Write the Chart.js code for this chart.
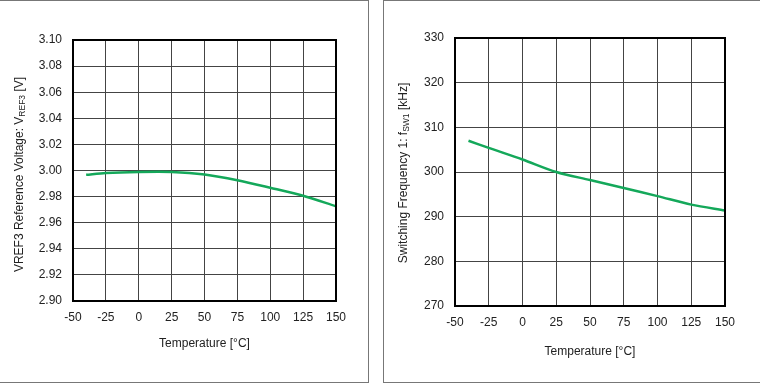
<!DOCTYPE html>
<html>
<head>
<meta charset="utf-8">
<script src="https://cdn.jsdelivr.net/npm/chart.js@4/dist/chart.umd.min.js"></script>
<style>
  body { margin: 0; background: #fff; width: 760px; height: 388px; overflow: hidden; position: relative; }
  .panel { position: absolute; top: 0; height: 383px; border: 1px solid #777; box-sizing: border-box; background: #fff; }
  #boxLeft { left: -1px; width: 370px; }
  #boxRight { left: 383px; width: 378px; }
  canvas { position: absolute; left: 0; top: 0; }
</style>
</head>
<body>
<div class="panel" id="boxLeft"><canvas id="vrefChart" width="368" height="381"></canvas></div>
<div class="panel" id="boxRight"><canvas id="fswChart" width="376" height="381"></canvas></div>
<script>
const temps = [-40, -25, 0, 25, 50, 75, 100, 125, 150];
const vref3 = [2.9967, 2.9981, 2.9989, 2.9989, 2.9970, 2.9926, 2.9868, 2.9806, 2.9726];
const fsw1 = [307.0, 305.4, 302.8, 300.0, 298.2, 296.4, 294.6, 292.7, 291.4];

const xTicks = [-50, -25, 0, 25, 50, 75, 100, 125, 150];
const vrefTicks = [2.90, 2.92, 2.94, 2.96, 2.98, 3.00, 3.02, 3.04, 3.06, 3.08, 3.10];
const fswTicks = [270, 280, 290, 300, 310, 320, 330];

const FONT = "'Liberation Sans', Arial, sans-serif";
const lineColor = '#14a85a';

// frame + axis titles (y title has a subscript)
const titlesPlugin = {
  id: 'titles',
  afterDraw(chart, args, opts) {
    const ctx = chart.ctx;
    const a = chart.chartArea;
    ctx.save();
    ctx.strokeStyle = '#000';
    ctx.lineWidth = 2;
    ctx.strokeRect(a.left, a.top, a.right - a.left, a.bottom - a.top);

    ctx.fillStyle = '#222';
    ctx.font = '12px ' + FONT;
    ctx.textAlign = 'center';
    ctx.textBaseline = 'middle';
    ctx.fillText('Temperature [°C]', (a.left + a.right) / 2, a.bottom + opts.xTitleGap);

    // rotated y title
    const parts = opts.yTitle;
    const big = '12px ' + FONT, small = '8.5px ' + FONT;
    let total = 0;
    parts.forEach(p => { ctx.font = p.sub ? small : big; total += ctx.measureText(p.t).width; });
    ctx.translate(opts.yTitleX, (a.top + a.bottom) / 2 + opts.yShift);
    ctx.rotate(-Math.PI / 2);
    ctx.textAlign = 'left';
    let x = -total / 2;
    parts.forEach(p => {
      ctx.font = p.sub ? small : big;
      ctx.fillText(p.t, x, p.sub ? 3 : 0);
      x += ctx.measureText(p.t).width;
    });
    ctx.restore();
  }
};

function makeChart(id, data, yMin, yMax, yTicks, digits, yTitle, pad, yTitleX, xTitleGap, yShift) {
  const points = temps.map((t, i) => ({ x: t, y: data[i] }));
  return new Chart(document.getElementById(id).getContext('2d'), {
    type: 'line',
    data: {
      datasets: [{
        data: points,
        borderColor: lineColor,
        borderWidth: 2.5,
        pointRadius: 0,
        fill: false,
        tension: 0.3
      }]
    },
    options: {
      responsive: false,
      animation: false,
      layout: { padding: { top: pad.top, right: pad.right, left: 0, bottom: 0 } },
      plugins: {
        legend: { display: false },
        tooltip: { enabled: false },
        titles: { yTitle: yTitle, yTitleX: yTitleX, xTitleGap: xTitleGap, yShift: yShift }
      },
      scales: {
        x: {
          type: 'linear',
          min: xTicks[0],
          max: xTicks[xTicks.length - 1],
          afterBuildTicks: s => { s.ticks = xTicks.map(v => ({ value: v })); },
          afterFit: s => { s.height = pad.bottom; },
          grid: { color: '#444', lineWidth: 1, drawTicks: false },
          border: { color: '#000', width: 2 },
          ticks: { padding: 9, color: '#222', font: { family: FONT, size: 12 }, maxRotation: 0, callback: v => v }
        },
        y: {
          min: yMin,
          max: yMax,
          afterBuildTicks: s => { s.ticks = yTicks.map(v => ({ value: v })); },
          afterFit: s => { s.width = pad.left; },
          grid: { color: '#444', lineWidth: 1, drawTicks: false },
          border: { color: '#000', width: 2 },
          ticks: { padding: 11, color: '#222', font: { family: FONT, size: 12 }, callback: v => Number(v).toFixed(digits) }
        }
      }
    },
    plugins: [titlesPlugin]
  });
}

makeChart('vrefChart', vref3, 2.90, 3.10, vrefTicks, 2,
  [{ t: 'VREF3 Reference Voltage: V' }, { t: 'REF3', sub: true }, { t: ' [V]' }],
  { top: 39, right: 32, left: 73, bottom: 81 }, 20, 43, 4);

makeChart('fswChart', fsw1, 270, 330, fswTicks, 0,
  [{ t: 'Switching Frequency 1: f' }, { t: 'SW1', sub: true }, { t: ' [kHz]' }],
  { top: 37, right: 35, left: 71, bottom: 76 }, 20, 46, 1);
</script>
</body>
</html>
